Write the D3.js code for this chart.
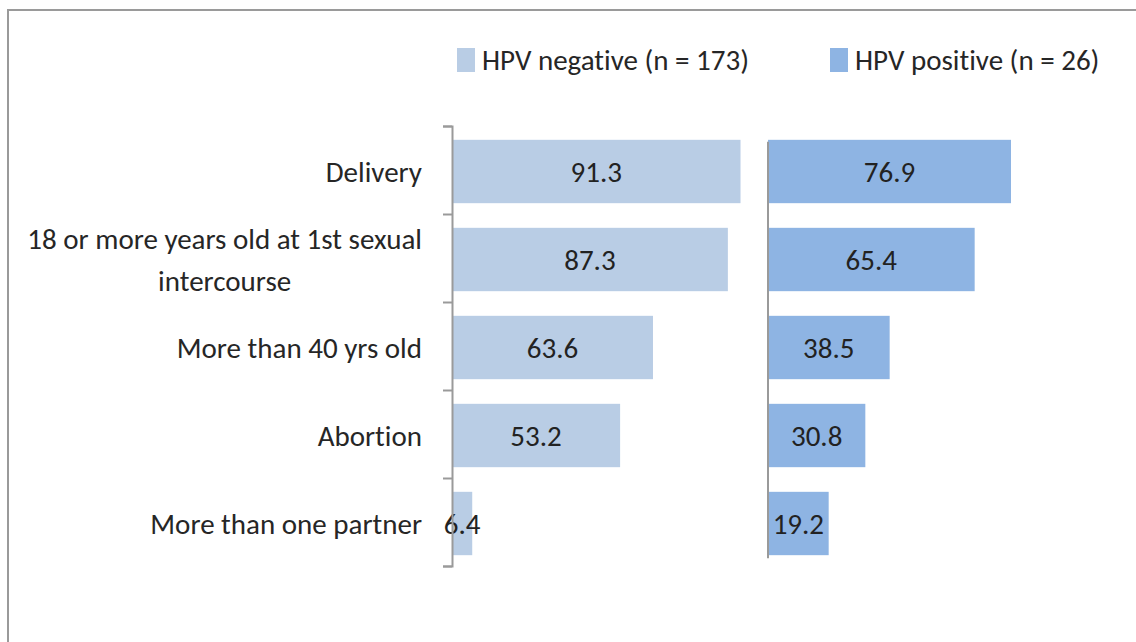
<!DOCTYPE html>
<html>
<head>
<meta charset="utf-8">
<script src="https://cdn.jsdelivr.net/npm/d3@7"></script>
<style>
  body { margin: 0; background: #fff; }
  text { font-family: Carlito, Calibri, "Liberation Sans", sans-serif; fill: #262626;
         font-variant-ligatures: none; font-feature-settings: "liga" 0, "clig" 0, "dlig" 0; }
</style>
</head>
<body>
<div id="chart"></div>
<script>
// Data
const categories = [
    "Delivery",
    "18 or more years old at 1st sexual\nintercourse",
    "More than 40 yrs old",
    "Abortion",
    "More than one partner"
];
const hpvNegative = [91.3, 87.3, 63.6, 53.2, 6.4];
const hpvPositive = [76.9, 65.4, 38.5, 30.8, 19.2];
const seriesNames = ["HPV negative (n = 173)", "HPV positive (n = 26)"];
const seriesColors = ["#b9cde5", "#8eb4e3"];

const W = 1136, H = 642;

const svg = d3.select("#chart").append("svg")
    .attr("width", W)
    .attr("height", H);

// outer frame (runs off the right and bottom edge)
svg.append("rect")
    .attr("x", 8).attr("y", 10)
    .attr("width", 1200).attr("height", 700)
    .attr("fill", "none")
    .attr("stroke", "#9a9a9a")
    .attr("stroke-width", 2);

// Y: one band per category
const y = d3.scaleBand()
    .domain(categories)
    .range([127.5, 567.5])
    .paddingInner(0.28)
    .paddingOuter(0.14);

// Excel style axis with ticks between the categories
const yEdge = d3.scaleLinear().domain([0, categories.length]).range([126, 566]);

// X: two panels, one per series
const xLeft = d3.scaleLinear().domain([0, 100]).range([452, 768]);
const xRight = d3.scaleLinear().domain([0, 100]).range([768, 1084]);

const panels = [
    { values: hpvNegative, x: xLeft, color: seriesColors[0] },
    { values: hpvPositive, x: xRight, color: seriesColors[1] }
];

panels.forEach(p => {
    const rows = categories.map((c, i) => ({ cat: c, value: p.values[i] }));
    const g = svg.append("g");

    g.selectAll("rect")
        .data(rows)
        .join("rect")
            .attr("x", p.x(0))
            .attr("y", d => y(d.cat))
            .attr("width", d => p.x(d.value) - p.x(0))
            .attr("height", y.bandwidth())
            .attr("fill", p.color);

    g.selectAll("text")
        .data(rows)
        .join("text")
            .attr("x", d => (p.x(0) + p.x(d.value)) / 2)
            .attr("y", d => y(d.cat) + y.bandwidth() / 2 + 10)
            .attr("text-anchor", "middle")
            .style("font-size", "29px")
            .style("fill", "#222")
            .text(d => d.value.toFixed(1));
});

// left axis with ticks
svg.append("g")
    .attr("transform", `translate(${xLeft(0)},0)`)
    .call(d3.axisLeft(yEdge).ticks(categories.length).tickSize(9).tickSizeOuter(9).tickFormat(""))
    .call(g => g.selectAll("path, line").attr("stroke", "#9a9a9a").attr("stroke-width", 2));

// right panel axis, no ticks
svg.append("line")
    .attr("x1", xRight(0)).attr("x2", xRight(0))
    .attr("y1", y(categories[0]) + 2)
    .attr("y2", y(categories[categories.length - 1]) + y.bandwidth() + 3)
    .attr("stroke", "#9a9a9a")
    .attr("stroke-width", 2);

// category labels, multi-line ones centred inside a right aligned block
const labelRight = 422;
categories.forEach(c => {
    const lines = c.split("\n");
    const t = svg.append("text")
        .attr("text-anchor", "middle")
        .style("font-size", "29px");
    const lineGap = 42;
    const cy = y(c) + y.bandwidth() / 2;
    const top = cy - (lines.length - 1) * lineGap / 2 + 10;
    lines.forEach((ln, i) => {
        t.append("tspan").attr("y", top + i * lineGap).text(ln);
    });
    let maxW = 0;
    t.selectAll("tspan").each(function () {
        maxW = Math.max(maxW, this.getComputedTextLength());
    });
    t.selectAll("tspan").attr("x", labelRight - maxW / 2);
});

// legend
const legendX = [457, 830];
seriesNames.forEach((name, i) => {
    const lg = svg.append("g").attr("transform", `translate(${legendX[i]},48)`);
    lg.append("rect")
        .attr("width", 18).attr("height", 24)
        .attr("fill", seriesColors[i]);
    lg.append("text")
        .attr("x", 25).attr("y", 22)
        .style("font-size", "29px")
        .text(name);
});
</script>
</body>
</html>
